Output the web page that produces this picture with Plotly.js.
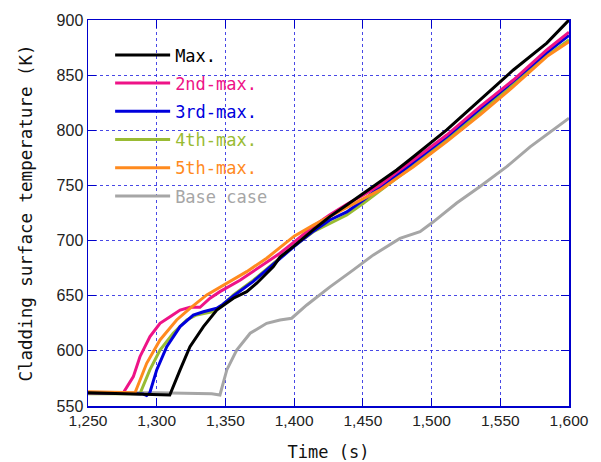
<!DOCTYPE html>
<html>
<head>
<meta charset="utf-8">
<script src="https://cdn.plot.ly/plotly-3.0.1.min.js"></script>
<style>html,body{margin:0;padding:0;background:#fff;}#chart{width:601px;height:462px;}</style>
</head>
<body>
<div id="chart"></div>
<script>
// Series names
const seriesNames = ["Max.", "2nd-max.", "3rd-max.", "4th-max.", "5th-max.", "Base case"];
const seriesColors = ["#000000", "#ee1387", "#0000dd", "#99bb33", "#ff8a1e", "#a6a6a6"];

// Max.
const maxTime = [1250,1295,1309.5,1317,1324.2,1334,1343.7,1355.8,1365.5,1372.8,1384.9,1389.7,1399.4,1414,1426,1438.3,1450.4,1462.5,1474.6,1486.8,1511,1535.3,1559.5,1583.8,1600];
const maxTemp = [562,561,560,582.7,603.8,622,637,647.7,653.7,661.3,676.4,685,694.5,710,721.7,732.3,743,753.4,764,776,800.3,827.5,854.7,879,900];

// 2nd-max.
const max2Time = [1250,1275.7,1283,1287.8,1295.1,1302.4,1309.7,1317,1324.2,1331.5,1338.8,1346,1360.6,1375.2,1389.7,1401.9,1414,1426,1438.3,1450.4,1462.5,1474.6,1486.8,1511,1535.3,1559.5,1583.8,1600];
const max2Temp = [562,562,576.6,594.7,612.9,625,631,637,639.5,639.5,647.7,653.7,664,676,688.5,700.5,713,723.5,733,741.3,750.4,762,773,795.7,821.4,845.6,872.8,889];

// 3rd-max.
const max3Time = [1250,1290,1292.7,1295,1300,1307.3,1317,1326.6,1334,1343.7,1348,1356,1370.3,1384.9,1399.4,1414,1426,1438.3,1450.4,1462.5,1474.6,1486.8,1511,1535.3,1559.5,1583.8,1600];
const max3Temp = [562,561,559.5,562,582.7,603.8,622,632.5,635.5,638.6,642,650,663,678.5,694,708.5,718.7,726,736.8,748.5,759,771,794,819.5,844.5,870.5,886];

// 4th-max.
const max4Time = [1250,1287.8,1295,1302.4,1312,1321.8,1329,1341.2,1346,1355.8,1370.3,1384.9,1399.4,1414,1426,1438.3,1450.4,1462.5,1474.6,1486.8,1511,1535.3,1559.5,1583.8,1600];
const max4Temp = [561,561,582.7,600.8,616,628,632.5,635.5,639.5,650.7,664,679.4,694.5,708,715.7,723.2,733.8,745,757,768,791,816,841.5,867.5,882];

// 5th-max.
const max5Time = [1250,1284.2,1292.7,1302.4,1314.5,1324.2,1336.4,1348.5,1365.5,1380,1394.6,1400,1414,1426,1438.3,1450.4,1462.5,1474.6,1486.8,1511,1535.3,1559.5,1583.8,1600];
const max5Temp = [563,562,588.7,609.9,628,638.6,650.7,659.7,671.8,684,698,704,714,722,730,738.4,745.9,756.5,767,789.7,813.9,839.6,866.8,880.3];

// Base case
const baseTime = [1250,1300,1340,1346,1351,1358.2,1368,1380,1389.7,1398.2,1409.2,1426.1,1443.1,1457.7,1477,1491.6,1501.3,1518.3,1535.3,1554.7,1571.7,1600];
const baseTemp = [562,562,561,560,582.7,600.8,616,625,628,629.6,641.6,658,673.4,687,702,708,717,734,749,767,785,811];

// Axis ticks
const xTicks = [1250,1300,1350,1400,1450,1500,1550,1600];
const xTickLabels = ["1,250","1,300","1,350","1,400","1,450","1,500","1,550","1,600"];
const yTicks = [550,600,650,700,750,800,850,900];

const allX = [maxTime, max2Time, max3Time, max4Time, max5Time, baseTime];
const allY = [maxTemp, max2Temp, max3Temp, max4Temp, max5Temp, baseTemp];

// drawing order (bottom to top)
const drawOrder = [5, 3, 2, 1, 4, 0];
const traces = drawOrder.map(i => ({
  type: "scatter",
  mode: "lines",
  x: allX[i],
  y: allY[i],
  name: '<span style="color:' + seriesColors[i] + '">' + seriesNames[i] + '</span>',
  legendrank: i + 1,
  legendgroup: "g" + i,
  line: {color: seriesColors[i], width: 3},
  hoverinfo: "skip"
}));

const axisBlue = "#0000cc";
const gridBlue = "rgba(40,40,225,0.85)";

const layout = {
  width: 601,
  height: 462,
  margin: {l: 88, r: 32, t: 20, b: 56},
  paper_bgcolor: "#ffffff",
  plot_bgcolor: "#ffffff",
  showlegend: true,
  legend: {
    x: 0.046, y: 0.955, xanchor: "left", yanchor: "top",
    bgcolor: "rgba(0,0,0,0)",
    font: {family: "DejaVu Sans Mono", size: 17, color: "#000"},
    itemwidth: 55,
    tracegroupgap: 3.1,
    traceorder: "grouped"
  },
  xaxis: {
    range: [1250, 1600],
    tickvals: xTicks,
    ticktext: xTickLabels,
    tickfont: {family: "Liberation Sans, Arial", size: 15.5, color: "#222"},
    showgrid: true,
    gridcolor: gridBlue,
    griddash: "dot",
    gridwidth: 1,
    showline: true,
    linecolor: axisBlue,
    linewidth: 1.5,
    mirror: "ticks",
    ticks: "inside",
    ticklen: 8,
    tickcolor: axisBlue,
    zeroline: false,
    title: {text: "Time (s)", font: {family: "DejaVu Sans Mono", size: 17, color: "#111"}, standoff: 18}
  },
  yaxis: {
    range: [550, 900],
    tickvals: yTicks,
    tickfont: {family: "Liberation Sans, Arial", size: 16, color: "#222"},
    showgrid: true,
    gridcolor: gridBlue,
    griddash: "dot",
    gridwidth: 1,
    showline: true,
    linecolor: axisBlue,
    linewidth: 1.5,
    mirror: "ticks",
    ticks: "inside",
    ticklen: 8,
    tickcolor: axisBlue,
    zeroline: false,
    title: {text: "Cladding surface temperature (K)", font: {family: "DejaVu Sans Mono", size: 17.5, color: "#111"}, standoff: 19}
  }
};

Plotly.newPlot("chart", traces, layout, {displayModeBar: false, staticPlot: true});
</script>
</body>
</html>
